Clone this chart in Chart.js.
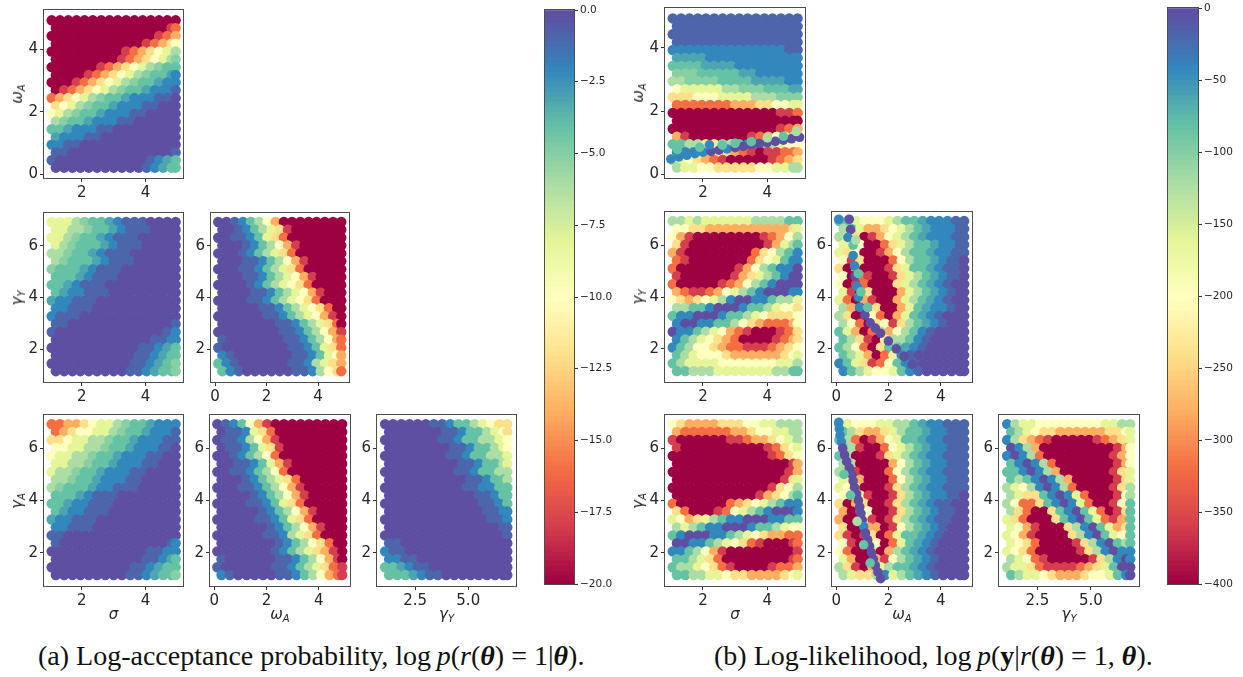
<!DOCTYPE html>
<html>
<head>
<meta charset="utf-8">
<title>Pairwise log-acceptance and log-likelihood</title>
<script src="https://cdn.jsdelivr.net/npm/chart.js@4"></script>
<style>
  html, body { margin: 0; padding: 0; background: #fff; }
  #page { position: relative; width: 1243px; height: 677px; overflow: hidden; }
  canvas { position: absolute; }
  .lab { position: absolute; font: italic 15px "DejaVu Sans"; color: #262626; white-space: nowrap; transform: translate(-50%, -50%); }
  .lab.rot { transform: translate(-50%, -50%) rotate(-90deg); }
  .lab sub { font-size: 10px; line-height: 0; vertical-align: -3px; }
  .caption { position: absolute; top: 640px; font: 28px "Liberation Serif"; color: #111; white-space: nowrap; }
</style>
</head>
<body>
<div id="page"></div>
<script>
"use strict";
// parameter values the cells were read at, odd rows sit half a step along
const sigmaGrid = [1.06, 1.32, 1.58, 1.84, 2.09, 2.35, 2.61, 2.87, 3.13, 3.39, 3.65, 3.91, 4.16, 4.42, 4.68, 4.94];
const sigmaGridOdd = [1.19, 1.45, 1.71, 1.96, 2.22, 2.48, 2.74, 3.0, 3.26, 3.52, 3.78, 4.03, 4.29, 4.55, 4.81, 4.94];
const omegaColGrid = [0.12, 0.44, 0.76, 1.08, 1.39, 1.71, 2.03, 2.35, 2.67, 2.99, 3.31, 3.63, 3.94, 4.26, 4.58, 4.9];
const omegaColGridOdd = [0.28, 0.6, 0.92, 1.24, 1.55, 1.87, 2.19, 2.51, 2.83, 3.15, 3.47, 3.79, 4.1, 4.42, 4.74, 4.9];
const gammaColGrid = [1.08, 1.46, 1.85, 2.23, 2.62, 3.0, 3.38, 3.77, 4.15, 4.54, 4.92, 5.3, 5.69, 6.07, 6.46, 6.84];
const gammaColGridOdd = [1.27, 1.65, 2.04, 2.42, 2.81, 3.19, 3.57, 3.96, 4.34, 4.73, 5.11, 5.49, 5.88, 6.26, 6.65, 6.84];
const omegaRowGrid = [4.93, 4.68, 4.43, 4.18, 3.93, 3.68, 3.43, 3.18, 2.94, 2.69, 2.44, 2.19, 1.94, 1.69, 1.44, 1.19, 0.95, 0.7, 0.45, 0.21];
const gammaRowGrid = [6.93, 6.63, 6.32, 6.02, 5.71, 5.41, 5.1, 4.8, 4.49, 4.19, 3.88, 3.58, 3.27, 2.97, 2.66, 2.36, 2.05, 1.75, 1.44, 1.14];

// cell levels, 0 = top of colorbar ... a = bottom of colorbar, b c d are the steps between 0-1, 1-2, 2-3
const accOmegaSigma = ["aaaaaaaaaaaaaaaa","aaaaaaaaaaaaaa98","aaaaaaaaaaaaa987","aaaaaaaaaaa98765","aaaaaaaaa9876543",
  "aaaaaaaa9876543d","aaaaaa9876543d22","aaaa9876543d22c1","aaa9876543d22c11","a9876543d22c111b",
  "876543d22c111bb0","6543d22c111bb000","543d22c111bb0000","3d22c111bb000000","22c111bb00000000",
  "c111bb0000000000","11bb000000000000","bb0000000000000b","b00000000000b1c2","00000000000b1c22"];
const accGammaYSigma = ["4443d22c1bbb0000","4433d22c1bbb0000","443d22c1bbb00000","43d222c1bbb00000","33d22c1bbb000000",
  "3d222c1bbb000000","d222c1bbb0000000","222c1bbb00000000","22c1bbb000000000","2c11bbb000000000",
  "c11bbb0000000000","11bbb00000000000","1bbb000000000000","bb0000000000000b","b0000000000000b1",
  "000000000000bb11","00000000000bb1c2","0000000000bb1c22","0000000000bb1c2d","000000000bb1c22d"];
const accGammaYOmega = ["00b12357aaaaaaaa","00b123469aaaaaaa","00bb12468aaaaaaa","000b123579aaaaaa","000b123468aaaaaa",
  "000bb123579aaaaa","000bb123468aaaaa","000bb1234579aaaa","0000b1234568aaaa","0000bb1234579aaa",
  "0000bb1234568aaa","00000bb1234568aa","000000bb1234579a","0000000bb123468a","00000000bb123579",
  "b0000000bb123578","b00000000bb12468","1b0000000bb12457","21b000000bb13467","21b000000bb13568"];
const accGammaASigma = ["887765443d22c111","87655443d22c111b","6654433d22c111bb","554433d22c111bb0","54433d22c111bb00",
  "4433d22c111bb000","433d22c111bb0000","33d22c111bb00000","3d222c11bbb00000","222c1bbb00000000",
  "22c11bbb00000000","2c11bbb000000000","c11bbb0000000000","11bbb00000000000","bb00000000000000",
  "b0000000000000b1","000000000000bb11","00000000000bb1c2","0000000000bb1c22","000000000bb1c22d"];
const accGammaAOmega = ["0b12579aaaaaaaaa","0bb1468aaaaaaaaa","0bb13579aaaaaaaa","0bb12469aaaaaaaa","00b12358aaaaaaaa",
  "00bb12479aaaaaaa","00bb12358aaaaaaa","000b123468aaaaaa","000bb123579aaaaa","0000b123579aaaaa",
  "0000bb12468aaaaa","00000b123579aaaa","00000bb12468aaaa","000000b123579aaa","000000bb13468aaa",
  "0000000b123568aa","0000000b1234679a","b000000bb123579a","b000000bb1234689","1b00000bb1235789"];
const accGammaAGammaY = ["000000bb12234566","0000000bb1223456","0000000bb1223345","00000000bb122345","00000000bb122334",
  "000000000bb12234","000000000bb12233","0000000000bb1223","0000000000bb1122","00000000000bb122",
  "000000000000bb12","000000000000bb11","0000000000000bb1","00000000000000bb","000000000000000b",
  "bb00000000000000","1bb0000000000000","11bb000000000000","22c1bb0000000000","222c1bb000000000"];

const likOmegaSigma = ["bbbbbbbbbbbbbbbb","bbbbbbbbbbbbbbbb","bbbbbbbbbbbbbbbb","bbbbbbbbbbbbbbbb","11111111111111bb",
  "cccc111111111111","2222cccc11111111","ddd22222cc111111","33dddd2222cccc11","54444433ddd222cc",
  "6665554444333ddd","8888888777665544","aaaaaaaaaaaaa998","aaaaaaaaaaaaaaaa","aaaaaaaaaaaaa987",
  "79aaaaaaa9875432","2233443321123455","1112346789a99887","3456789aaaaa9876","3445566666554433"];
const likGammaYSigma = ["3343444444333322","5566777777777764","579aaaaaaaa98753","69aaaaaaaaa97432","79aaaaaaaa865321",
  "89aaaaaaa8654211","8aaaaaaa97532110","9aaaaaa976432100","8aaaaa9875321000","7899875432100011",
  "5676543100112334","3322100012234556","2110001223456665","1001122356788875","0112345789aaa986",
  "12345678aaaa9876","1235567889998765","2345556777777654","2344445555555443","2233344444443322"];
const likGammaYOmega = ["2245554322c111bb","3247765432c111bb","346a975432c111bb","445aa864322c11bb","465aa975322c11bb",
  "596aaa85322c1bb0","6a7aaa96422c1bb0","5a89aa96432c1bb0","5a98aaa6432c1b00","49a6aaa7432c1b00",
  "48a79aa7432c1b00","37a86aa742c11b00","36aa58a742c1b000","358a659632c1b000","247a8375321b0000",
  "2369a43321b00000","2358a622c1b00000","2347a841b0000000","124698521b000000","123455421b000000"];
const likGammaASigma = ["5677776665544333","7888888776554433","9aaaaaa998776543","9aaaaaaaaaa98654","aaaaaaaaaaaa9865",
  "aaaaaaaaaaaaaa97","aaaaaaaaaaaaaa97","aaaaaaaaaaaaa964","aaaaaaaaaaaa9653","aaaaaaaaaa976532",
  "8aaaaaa876543211","68aaa98543210001","4576432110001122","3432110001223455","2100011234567788",
  "00112345689aaa98","1123579aaaaaaaa9","223468aaaaaaaa98","23345689aaaa9887","2233445667777654"];
const likGammaAOmega = ["1455544332c11bbb","2367764322c11bbb","238a975422c11bbb","239aa85432c11bbb","23aaa96432c11bbb",
  "33aaaa7532c11bbb","339aaa8532c11bbb","447aaa8532c11bbb","454aaa9632c11bbb","5649aa9632c11bb0",
  "6a76aa9632c1bb00","7a95aa9632c1bb00","7aa59a9632c1bb00","6aa77a9532c1b000","69a96a8422c1b000",
  "59aa5a842c1b0000","58aa6a732c1b0000","47aa79532c1b0000","369a74322c1b0000","346631432c1b0000"];
const likGammaAGammaY = ["1344555555554433","2345667777776654","136789aaaaa98764","0137aaaaaaaaa975","10138aaaaaaaa975",
  "210138aaaaaaa975","2210137aaaaaa964","23210137aaaaa964","345310138aaaa963","3466210148aaa953",
  "35886210148aa952","368aa6210248a962","468aaa6210248972","4579aaa631024762","4579aaaa63102452",
  "4568aaaa96310232","4568aaaaa9631011","34589aaaaa963101","3446899998764200","2344567776554210"];

// thin ridges of high likelihood that run between the dark lobes
const ridgeOmegaSigmaX = [1.0, 1.25, 1.5, 1.75, 2.0, 2.25, 2.5, 2.75, 3.0, 3.25, 3.5, 3.75, 4.0, 4.25, 4.5, 4.75, 5.0, 1.2, 1.9, 2.2, 2.6, 3.0, 3.5, 4.0, 4.5, 4.9];
const ridgeOmegaSigmaY = [0.48, 0.55, 0.6, 0.65, 0.7, 0.72, 0.76, 0.8, 0.84, 0.88, 0.94, 0.97, 1.0, 1.04, 1.08, 1.12, 1.17, 0.78, 0.85, 0.93, 0.92, 0.98, 1.03, 1.15, 1.2, 1.35];
const ridgeOmegaSigmaLevel = "11111001000000000221222323";
const ridgeGammaYOmegaX = [0.1, 0.5, 0.55, 0.45, 0.65, 0.65, 0.7, 0.72, 0.8, 0.85, 0.9, 1.1, 1.3, 1.5, 1.7, 2.0, 2.3, 2.6, 2.9, 0.75, 0.85, 0.95, 1.2];
const ridgeGammaYOmegaY = [7.0, 7.0, 6.6, 6.3, 6.0, 5.6, 5.2, 4.8, 4.4, 4.0, 3.6, 3.3, 3.0, 2.8, 2.6, 2.3, 2.0, 1.7, 1.4, 6.2, 4.9, 4.2, 3.6];
const ridgeGammaYOmegaLevel = "10012110111000000003222";
const ridgeGammaAOmegaX = [0.1, 0.12, 0.15, 0.2, 0.25, 0.32, 0.4, 0.5, 0.6, 0.65, 0.7, 0.78, 0.85, 0.9, 0.95, 1.0, 1.05, 1.12, 1.2, 1.28, 1.35, 1.42, 1.5, 1.6, 1.7, 0.3, 0.55, 0.8, 1.05, 1.3];
const ridgeGammaAOmegaY = [7.0, 6.75, 6.5, 6.25, 6.0, 5.75, 5.5, 5.25, 5.0, 4.75, 4.5, 4.25, 4.0, 3.75, 3.5, 3.25, 3.0, 2.75, 2.5, 2.25, 2.0, 1.75, 1.5, 1.25, 1.0, 5.0, 4.2, 3.2, 2.3, 1.6];
const ridgeGammaAOmegaLevel = "111100000000000010000000022322";

const accBarTicks = [0, -2.5, -5, -7.5, -10, -12.5, -15, -17.5, -20];
const likBarTicks = [0, -50, -100, -150, -200, -250, -300, -350, -400];
const sigmaTicks = [2, 4];
const omegaTicks = [0, 2, 4];
const gammaTicks = [2, 4, 6];
const gammaYTicks = [2.5, 5.0];

const spectral = ["#5e4fa2", "#3288bd", "#66c2a5", "#abdda4", "#e6f598", "#ffffbf", "#fee08b", "#fdae61", "#f46d43", "#d53e4f", "#9e0142"];
const levelColors = spectral.concat(["#4c65ab", "#4ca5b1", "#88cfa4"]);

const sigmaAxis = { min: 0.82, max: 5.17, ticks: sigmaTicks, grid: sigmaGrid, odd: sigmaGridOdd };
const omegaXAxis = { min: -0.16, max: 5.2, ticks: omegaTicks, grid: omegaColGrid, odd: omegaColGridOdd };
const gammaXAxis = { min: 0.7, max: 7.25, ticks: gammaYTicks, grid: gammaColGrid, odd: gammaColGridOdd, digits: 1 };
const omegaYAxis = { min: -0.12, max: 5.26, ticks: omegaTicks, grid: omegaRowGrid };
const gammaYAxis = { min: 0.72, max: 7.28, ticks: gammaTicks, grid: gammaRowGrid };

const SIGMA = "σ", OMEGA = "ω<sub>A</sub>", GAMMA_Y = "γ<sub>Y</sub>", GAMMA_A = "γ<sub>A</sub>";

const page = document.getElementById("page");

// draws the box round the plot, matplotlib style
const framePlugin = {
  id: "frame",
  afterDraw(chart) {
    const a = chart.chartArea, c = chart.ctx;
    c.save();
    c.strokeStyle = "#4d4d4d";
    c.lineWidth = 1;
    c.strokeRect(Math.round(a.left) - 0.5, Math.round(a.top) - 0.5, Math.round(a.right - a.left) + 1, Math.round(a.bottom - a.top) + 1);
    c.restore();
  }
};

function addCanvas(left, top, width, height) {
  const canvas = document.createElement("canvas");
  canvas.width = width;
  canvas.height = height;
  canvas.style.left = left + "px";
  canvas.style.top = top + "px";
  canvas.style.width = width + "px";
  canvas.style.height = height + "px";
  page.appendChild(canvas);
  return canvas;
}

function addLabel(html, x, y, rotated) {
  const el = document.createElement("div");
  el.className = rotated ? "lab rot" : "lab";
  el.innerHTML = html;
  el.style.left = x + "px";
  el.style.top = y + "px";
  page.appendChild(el);
}

function axisOptions(axis, position, fixedSize) {
  return {
    type: "linear",
    position: position,
    min: axis.min,
    max: axis.max,
    afterBuildTicks: scale => { scale.ticks = axis.ticks.map(v => ({ value: v })); },
    afterFit: scale => {
      if (position === "left") scale.width = fixedSize; else scale.height = fixedSize;
    },
    border: { display: false },
    grid: { drawOnChartArea: false, tickLength: 4, color: "#333" },
    ticks: {
      color: "#262626",
      font: { family: "DejaVu Sans", size: 15 },
      padding: 2,
      maxRotation: 0,
      callback: v => axis.digits ? v.toFixed(axis.digits) : String(v)
    }
  };
}

function gridPoints(xAxis, yGrid, rows) {
  const pts = [], colors = [];
  rows.forEach((row, r) => {
    const xGrid = r % 2 ? xAxis.odd : xAxis.grid;
    xGrid.forEach((x, c) => {
      pts.push({ x: x, y: yGrid[r] });
      colors.push(levelColors[parseInt(row[c], 16)]);
    });
  });
  return { pts, colors };
}

function drawPanel(p) {
  const marginL = 40, marginR = 6, marginT = 14, marginB = 30;
  const w = p.x1 - p.x0, h = p.y1 - p.y0;
  const canvas = addCanvas(p.x0 - marginL, p.y0 - marginT, w + marginL + marginR, h + marginT + marginB);
  const cells = gridPoints(p.xAxis, p.yAxis.grid, p.rows);
  const datasets = [{ data: cells.pts, backgroundColor: cells.colors, pointRadius: 5.2, borderWidth: 0 }];
  if (p.ridgeX) {
    // first dataset is painted last, so the ridge stays on top
    datasets.unshift({
      data: p.ridgeX.map((x, i) => ({ x: x, y: p.ridgeY[i] })),
      backgroundColor: p.ridgeX.map((x, i) => levelColors[parseInt(p.ridgeLevel[i], 16)]),
      pointRadius: 4.8,
      borderWidth: 0
    });
  }
  new Chart(canvas, {
    type: "scatter",
    data: { datasets },
    options: {
      responsive: false,
      animation: false,
      layout: { padding: { top: marginT, right: marginR } },
      plugins: { legend: { display: false }, tooltip: { enabled: false } },
      scales: {
        x: axisOptions(p.xAxis, "bottom", marginB),
        y: axisOptions(p.yAxis, "left", marginL)
      }
    },
    plugins: [framePlugin]
  });
  if (p.xLabel) addLabel(p.xLabel, (p.x0 + p.x1) / 2, p.y1 + 28, false);
  if (p.yLabel) addLabel(p.yLabel, p.x0 - 27, (p.y0 + p.y1) / 2, true);
}

function mix(a, b, t) {
  const ch = (s, i) => parseInt(s.substr(1 + 2 * i, 2), 16);
  const out = [0, 1, 2].map(i => Math.round(ch(a, i) + (ch(b, i) - ch(a, i)) * t));
  return "rgb(" + out.join(",") + ")";
}

function drawColorbar(x0, x1, y0, y1, lo, ticks, digits) {
  const padL = 15, padT = 10, axisW = 46;
  const canvas = addCanvas(x0 - padL, y0 - padT, x1 - x0 + padL + axisW, y1 - y0 + padT + 12);
  const n = 115;
  const datasets = [];
  for (let i = 0; i < n; i++) {
    const f = i / (n - 1) * (spectral.length - 1);
    const k = Math.min(Math.floor(f), spectral.length - 2);
    datasets.push({
      data: [[lo * i / n, lo * Math.min(i + 1.3, n) / n]],
      backgroundColor: mix(spectral[k], spectral[k + 1], f - k),
      barPercentage: 1,
      categoryPercentage: 1,
      borderWidth: 0
    });
  }
  new Chart(canvas, {
    type: "bar",
    data: { labels: [""], datasets },
    options: {
      responsive: false,
      animation: false,
      layout: { padding: { left: padL, top: padT, bottom: 12 } },
      plugins: { legend: { display: false }, tooltip: { enabled: false } },
      scales: {
        x: { stacked: true, display: false },
        y: {
          position: "right",
          min: lo,
          max: 0,
          afterBuildTicks: scale => { scale.ticks = ticks.map(v => ({ value: v })); },
          afterFit: scale => { scale.width = axisW; },
          border: { display: false },
          grid: { drawOnChartArea: false, tickLength: 4, color: "#333" },
          ticks: {
            color: "#262626",
            font: { family: "DejaVu Sans", size: 10.5 },
            padding: 2,
            callback: v => (v < 0 ? "\u2212" : "") + Math.abs(v).toFixed(digits)
          }
        }
      }
    },
    plugins: [framePlugin]
  });
}

const panels = [
  { x0: 44, x1: 183, y0: 10, y1: 178, xAxis: sigmaAxis, yAxis: omegaYAxis, rows: accOmegaSigma, yLabel: OMEGA },
  { x0: 44, x1: 183, y0: 213, y1: 382, xAxis: sigmaAxis, yAxis: gammaYAxis, rows: accGammaYSigma, yLabel: GAMMA_Y },
  { x0: 211, x1: 349, y0: 213, y1: 382, xAxis: omegaXAxis, yAxis: gammaYAxis, rows: accGammaYOmega },
  { x0: 44, x1: 183, y0: 415, y1: 586, xAxis: sigmaAxis, yAxis: gammaYAxis, rows: accGammaASigma, xLabel: SIGMA, yLabel: GAMMA_A },
  { x0: 210, x1: 350, y0: 415, y1: 586, xAxis: omegaXAxis, yAxis: gammaYAxis, rows: accGammaAOmega, xLabel: OMEGA },
  { x0: 377, x1: 516, y0: 415, y1: 586, xAxis: gammaXAxis, yAxis: gammaYAxis, rows: accGammaAGammaY, xLabel: GAMMA_Y },
  { x0: 665, x1: 805, y0: 8, y1: 178, xAxis: sigmaAxis, yAxis: omegaYAxis, rows: likOmegaSigma, yLabel: OMEGA,
    ridgeX: ridgeOmegaSigmaX, ridgeY: ridgeOmegaSigmaY, ridgeLevel: ridgeOmegaSigmaLevel },
  { x0: 665, x1: 805, y0: 212, y1: 382, xAxis: sigmaAxis, yAxis: gammaYAxis, rows: likGammaYSigma, yLabel: GAMMA_Y },
  { x0: 832, x1: 972, y0: 212, y1: 382, xAxis: omegaXAxis, yAxis: gammaYAxis, rows: likGammaYOmega,
    ridgeX: ridgeGammaYOmegaX, ridgeY: ridgeGammaYOmegaY, ridgeLevel: ridgeGammaYOmegaLevel },
  { x0: 665, x1: 805, y0: 415, y1: 586, xAxis: sigmaAxis, yAxis: gammaYAxis, rows: likGammaASigma, xLabel: SIGMA, yLabel: GAMMA_A },
  { x0: 832, x1: 972, y0: 415, y1: 586, xAxis: omegaXAxis, yAxis: gammaYAxis, rows: likGammaAOmega, xLabel: OMEGA,
    ridgeX: ridgeGammaAOmegaX, ridgeY: ridgeGammaAOmegaY, ridgeLevel: ridgeGammaAOmegaLevel },
  { x0: 999, x1: 1139, y0: 415, y1: 586, xAxis: gammaXAxis, yAxis: gammaYAxis, rows: likGammaAGammaY, xLabel: GAMMA_Y }
];

panels.forEach(drawPanel);
drawColorbar(545, 574, 10, 584, -20, accBarTicks, 1);
drawColorbar(1168, 1198, 8, 584, -400, likBarTicks, 0);

function addCaption(html, x) {
  const el = document.createElement("div");
  el.className = "caption";
  el.innerHTML = html;
  el.style.left = x + "px";
  page.appendChild(el);
}
addCaption('(a) Log-acceptance probability, log\u2009<i>p</i>(<i>r</i>(<b><i>θ</i></b>) = 1|<b><i>θ</i></b>).', 38);
addCaption('(b) Log-likelihood, log\u2009<i>p</i>(<b>y</b>|<i>r</i>(<b><i>θ</i></b>) = 1, <b><i>θ</i></b>).', 714);
</script>
</body>
</html>
